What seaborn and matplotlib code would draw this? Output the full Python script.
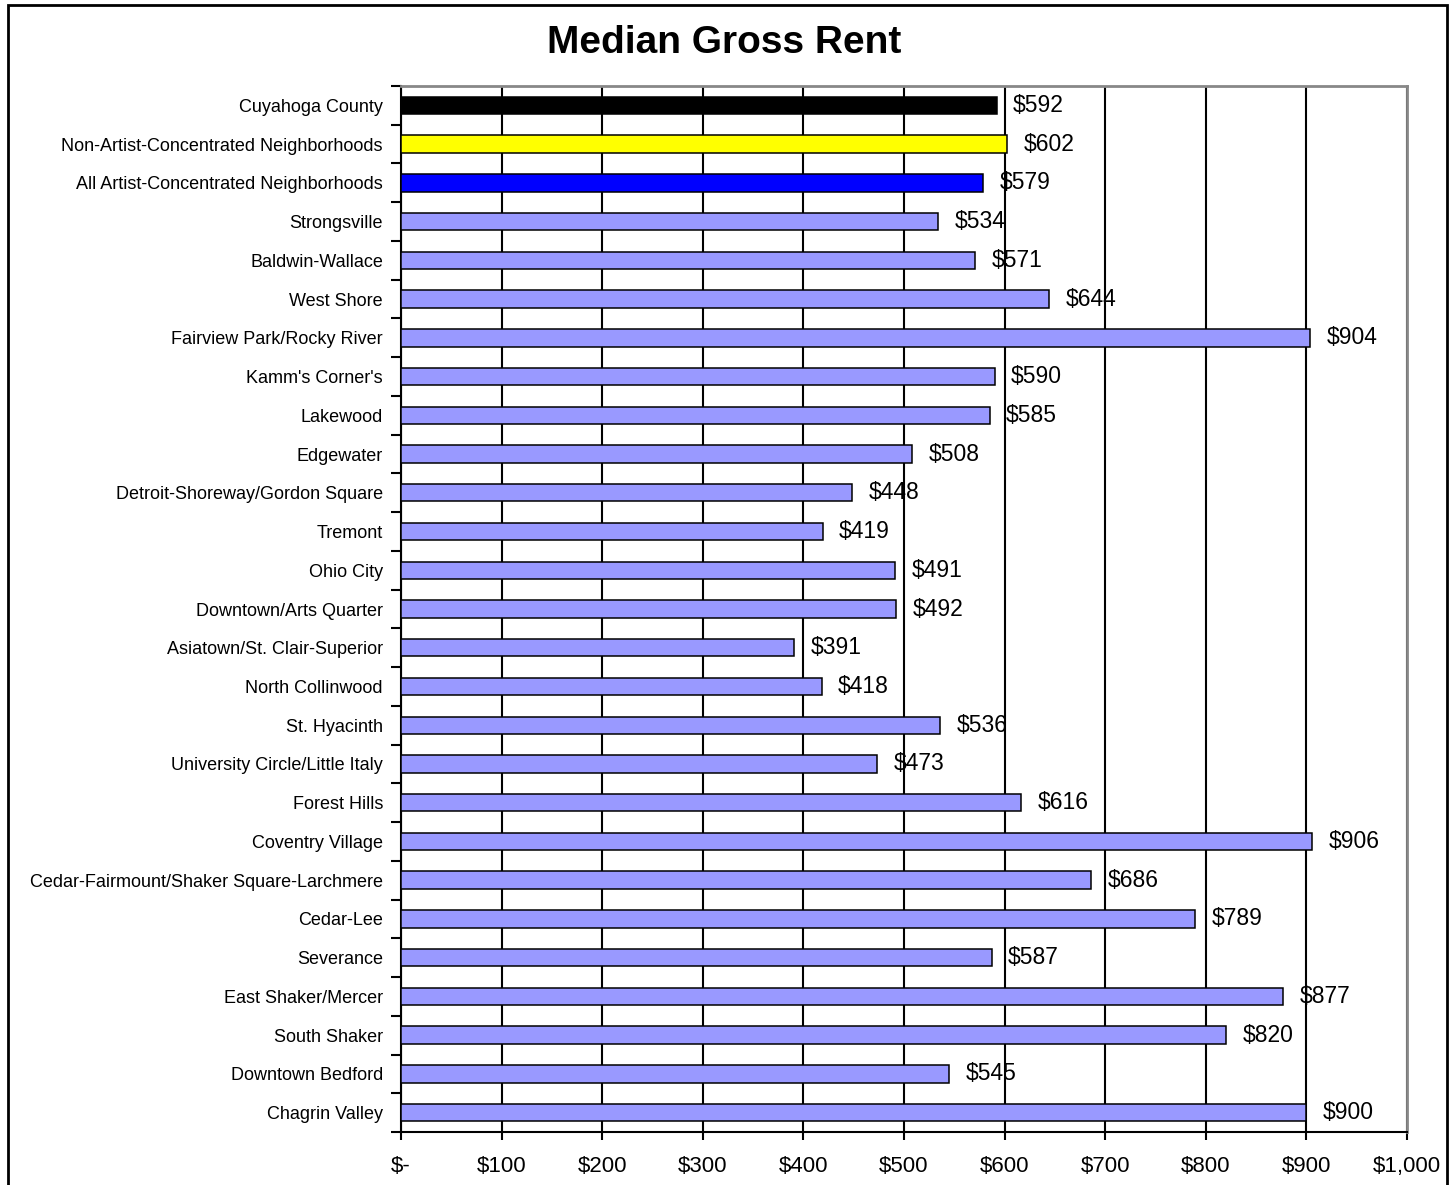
import matplotlib
matplotlib.use("Agg")
import matplotlib.pyplot as plt
import seaborn as sns
import pandas as pd
from matplotlib.ticker import FixedLocator
from matplotlib.patches import Rectangle

categories = [
    "Cuyahoga County",
    "Non-Artist-Concentrated Neighborhoods",
    "All Artist-Concentrated Neighborhoods",
    "Strongsville",
    "Baldwin-Wallace",
    "West Shore",
    "Fairview Park/Rocky River",
    "Kamm's Corner's",
    "Lakewood",
    "Edgewater",
    "Detroit-Shoreway/Gordon Square",
    "Tremont",
    "Ohio City",
    "Downtown/Arts Quarter",
    "Asiatown/St. Clair-Superior",
    "North Collinwood",
    "St. Hyacinth",
    "University Circle/Little Italy",
    "Forest Hills",
    "Coventry Village",
    "Cedar-Fairmount/Shaker Square-Larchmere",
    "Cedar-Lee",
    "Severance",
    "East Shaker/Mercer",
    "South Shaker",
    "Downtown Bedford",
    "Chagrin Valley",
]
rents = [592, 602, 579, 534, 571, 644, 904, 590, 585, 508, 448, 419, 491, 492,
         391, 418, 536, 473, 616, 906, 686, 789, 587, 877, 820, 545, 900]
colors = ["#000000", "#FFFF00", "#0000FF"] + ["#9999FF"] * (len(categories) - 3)
x_ticks = [0, 100, 200, 300, 400, 500, 600, 700, 800, 900, 1000]
x_tick_labels = ["$-", "$100", "$200", "$300", "$400", "$500", "$600", "$700",
                 "$800", "$900", "$1,000"]

df = pd.DataFrame({"Area": categories, "Rent": rents})

sns.set_style("white")
plt.rcParams["font.family"] = ["Liberation Sans", "DejaVu Sans"]
plt.rcParams["text.color"] = "black"
plt.rcParams["xtick.color"] = "black"
plt.rcParams["ytick.color"] = "black"

fig = plt.figure(figsize=(14.49, 11.85), dpi=100)
ax = fig.add_axes([401 / 1449, 1 - 1132 / 1185, (1407 - 401) / 1449, (1132 - 86) / 1185])

sns.barplot(data=df, x="Rent", y="Area", hue="Area", palette=colors, legend=False,
            orient="h", width=0.45, edgecolor="black", linewidth=1.1, saturation=1,
            ax=ax, zorder=3)

ax.set_xlim(0, 1000)
ax.set_ylim(len(categories) - 0.5, -0.5)
ax.set_xticks(x_ticks)
ax.set_xticklabels(x_tick_labels, fontsize=16)
ax.tick_params(axis="x", which="major", bottom=True, direction="out", length=6,
               width=1.5, pad=11, color="black", labelcolor="black")
ax.tick_params(axis="y", which="major", left=False, length=0, pad=13, labelsize=13,
               labelcolor="black")
ax.yaxis.set_minor_locator(FixedLocator([i - 0.5 for i in range(len(categories) + 1)]))
ax.tick_params(axis="y", which="minor", left=True, direction="out", length=7,
               width=1.5, color="black")
ax.set_xlabel("")
ax.set_ylabel("")

ax.xaxis.grid(True, color="black", linewidth=1.5, zorder=0)
ax.yaxis.grid(False)
ax.set_axisbelow(True)

for side in ["left", "bottom"]:
    ax.spines[side].set_color("black")
    ax.spines[side].set_linewidth(1.5)
for side in ["top", "right"]:
    ax.spines[side].set_color("#888888")
    ax.spines[side].set_linewidth(2)

for i, v in enumerate(rents):
    ax.annotate(f"${v}", xy=(v, i), xytext=(12, 0), textcoords="offset points",
                va="center", ha="left", fontsize=16.5, color="black", zorder=5)

fig.text(0.5, 1 - 43 / 1185, "Median Gross Rent", ha="center", va="center",
         fontsize=28, fontweight="bold", color="black")

fig.patches.append(Rectangle((8 / 1449, -0.01), (1447 - 8) / 1449, 1 - 5 / 1185 + 0.01,
                             transform=fig.transFigure, fill=False, edgecolor="black",
                             linewidth=2))

fig.savefig("out.png", dpi=100)
